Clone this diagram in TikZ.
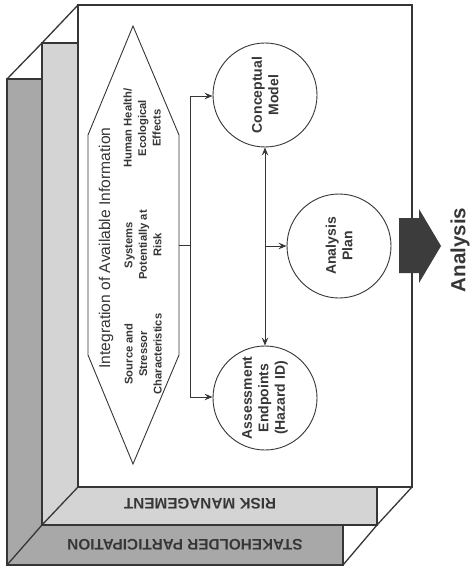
\documentclass[tikz,border=0pt]{standalone}
\usepackage{fontspec}
\setmainfont{Liberation Sans}
\usetikzlibrary{arrows.meta,shapes.geometric}
\definecolor{ink}{HTML}{363636}
\definecolor{backgray}{HTML}{A8A8A8}
\definecolor{midgray}{HTML}{D4D4D4}
\definecolor{arrowgray}{HTML}{3C3C3C}
\tikzset{
  panel/.style={draw=ink, line width=1.3pt, line join=miter},
  bubble/.style={circle, draw=ink, line width=0.9pt, minimum size=104pt, inner sep=0pt},
  bubbletxt/.style={align=center, rotate=90, font=\bfseries\fontsize{14}{16.5}\selectfont, text=ink, inner sep=0pt},
  conn/.style={draw=ink, line width=0.9pt},
  arr/.style={conn, -{Stealth[length=8pt,width=6.5pt,inset=3pt]}},
  barr/.style={conn, {Stealth[length=8pt,width=6.5pt,inset=3pt]}-{Stealth[length=8pt,width=6.5pt,inset=3pt]}},
  smalltxt/.style={align=center, rotate=90, font=\bfseries\fontsize{11.2}{14.5}\selectfont, text=ink, inner sep=0pt},
  striplabel/.style={rotate=180, font=\bfseries\fontsize{15.3}{18}\selectfont, text=ink, inner sep=0pt}
}
\begin{document}
\begin{tikzpicture}[x=1pt,y=-1pt]
\useasboundingbox (0,0) rectangle (474,567);
% layers
\path[panel, fill=backgray] (7,79) rectangle (343,565);
\path[panel, fill=midgray] (42,43) rectangle (377,525);
\path[panel, fill=white] (78,5) rectangle (412,487);
% bevel diagonals
\draw[panel] (78,5) -- (42,43) -- (7,79);
\draw[panel] (78,487) -- (42,525) -- (7,565);
\draw[panel] (412,487) -- (377,525) -- (343,565);
% strip labels
\node[striplabel] (rm) at (200,504) {RISK MANAGEMENT};
\node[striplabel] (sp) at (185,545) {STAKEHOLDER PARTICIPATION};
% hexagon
\draw[ink, line width=0.9pt] (133,26) -- (179,135) -- (179,355) -- (133,464) -- (88,355) -- (88,135) -- cycle;
\coordinate (hexR) at (179,245);
\node[rotate=90, font=\fontsize{15.6}{18}\selectfont, text=ink, inner sep=0pt] (integ) at (106,248) {Integration of Available Information};
\node[smalltxt] (src) at (143,354) {Source and\\Stressor\\Characteristics};
\node[smalltxt] (sys) at (143,245) {Systems\\Potentially at\\Risk};
\node[smalltxt] (hh) at (142,128) {Human Health/\\Ecological\\Effects};
% circles
\node[bubble] (cm) at (265,95) {};
\node[bubble] (ap) at (339,246) {};
\node[bubble] (ae) at (265,398) {};
\node[bubbletxt] (cmt) at (cm.center) {Conceptual\\Model};
\node[bubbletxt] (apt) at (ap.center) {Analysis\\Plan};
\node[bubbletxt] (aet) at (ae.center) {Assessment\\Endpoints\\(Hazard ID)};
% connectors
\coordinate (jt) at (190,245);
\coordinate (jtop) at (190,96);
\coordinate (jbot) at (190,397);
\draw[conn] (hexR) -- (jt);
\draw[conn] (jtop) -- (jbot);
\draw[arr] (jtop) -- (cm.west |- jtop);
\draw[arr] (jbot) -- (ae.west |- jbot);
\draw[barr] (cm.south) -- (ae.north);
\coordinate (jmid) at (cm.south |- ap.west);
\draw[arr] (jmid) -- (ap.west);
% big arrow
\fill[arrowgray] (399,218) -- (419,218) -- (419,209) -- (441,246) -- (419,283) -- (419,273) -- (399,273) -- cycle;
\node[rotate=90, font=\bfseries\fontsize{20.5}{24}\selectfont, text=ink, inner sep=0pt] (an) at (460,250) {Analysis};
\end{tikzpicture}
\end{document}
